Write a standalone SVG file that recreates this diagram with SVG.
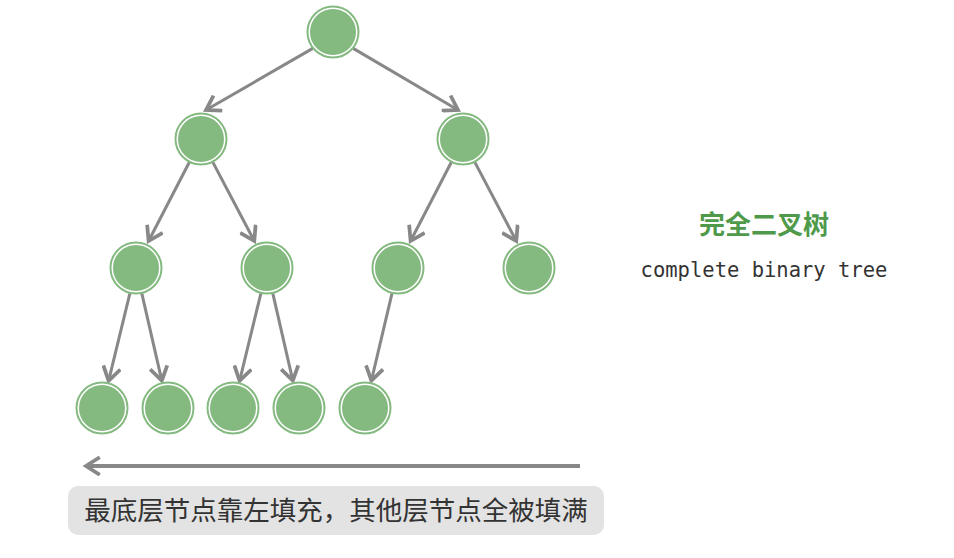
<svg xmlns="http://www.w3.org/2000/svg" width="954" height="558" viewBox="0 0 954 558">
<style>
.e line{stroke:#888;stroke-width:3;marker-end:url(#a)}
</style>
<defs>
<marker id="a" markerUnits="userSpaceOnUse" markerWidth="20" markerHeight="20" viewBox="-12 -8 16 16" refX="0" refY="0" orient="auto">
<path d="M-11,-7 L0,0 L-11,7" fill="none" stroke="#888" stroke-width="3"/>
</marker>
<g id="nd"><circle r="24" fill="#84b980" stroke="#fff" stroke-width="2"/><circle r="25.5" fill="none" stroke="#84b980" stroke-width="2"/></g>
</defs>
<rect width="954" height="558" fill="#fff"/>
<g id="edges" class="e">
<line x1="312.8" y1="48.4" x2="206" y2="110"/>
<line x1="353.2" y1="48.4" x2="458" y2="110"/>
<line x1="189.3" y1="162.2" x2="148.6" y2="241"/>
<line x1="212.8" y1="162.1" x2="254.3" y2="241"/>
<line x1="451.3" y1="162.2" x2="410.6" y2="241"/>
<line x1="474.8" y1="162.1" x2="516.3" y2="241"/>
<line x1="129.9" y1="293.3" x2="108.6" y2="380.8"/>
<line x1="141.8" y1="293.4" x2="161.8" y2="380.7"/>
<line x1="260.9" y1="293.3" x2="239.6" y2="380.8"/>
<line x1="272.8" y1="293.4" x2="292.8" y2="380.7"/>
<line x1="392" y1="293.3" x2="371.4" y2="380.7"/>
<line x1="580" y1="466" x2="86" y2="466" style="stroke-width:4"/>
</g>
<g id="n0"><use href="#nd" x="333" y="32"/></g>
<g id="n1"><use href="#nd" x="201" y="139"/></g>
<g id="n2"><use href="#nd" x="463" y="139"/></g>
<g id="n3"><use href="#nd" x="136" y="268"/></g>
<g id="n4"><use href="#nd" x="267" y="268"/></g>
<g id="n5"><use href="#nd" x="398" y="268"/></g>
<g id="n6"><use href="#nd" x="529" y="268"/></g>
<g id="n7"><use href="#nd" x="102" y="408"/></g>
<g id="n8"><use href="#nd" x="168" y="408"/></g>
<g id="n9"><use href="#nd" x="233" y="408"/></g>
<g id="n10"><use href="#nd" x="299" y="408"/></g>
<g id="n11"><use href="#nd" x="365" y="408"/></g>
<g id="caption">
<rect x="68" y="486" width="536" height="49" rx="10" fill="#e3e3e3"/>
<text x="336" y="520" text-anchor="middle" font-family="'Noto Sans CJK SC',sans-serif" font-size="26.5" fill="#333">最底层节点靠左填充，其他层节点全被填满</text>
</g>
<g id="title">
<text x="764" y="234" text-anchor="middle" font-family="'Noto Sans CJK SC',sans-serif" font-weight="bold" font-size="26" fill="#4e9a4a">完全二叉树</text>
<text x="764" y="277" text-anchor="middle" font-family="'DejaVu Sans Mono',monospace" font-size="20.5" fill="#333">complete binary tree</text>
</g>
</svg>
